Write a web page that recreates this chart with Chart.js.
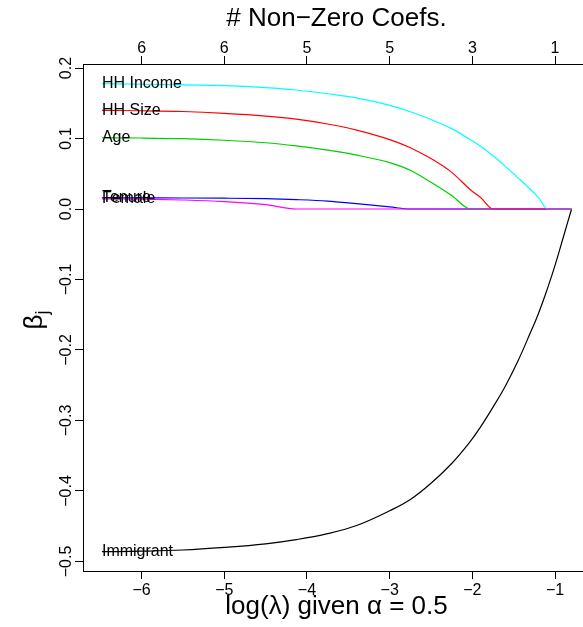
<!DOCTYPE html>
<html>
<head>
<meta charset="utf-8">
<script src="https://cdn.jsdelivr.net/npm/chart.js@4.4.1/dist/chart.umd.min.js"></script>
<style>
  html, body { margin: 0; padding: 0; background: #fff; overflow: hidden; }
  #wrap { width: 583px; height: 627px; overflow: hidden; }
</style>
</head>
<body>
<div id="wrap"><canvas id="coefChart" width="600" height="627"></canvas></div>
<script>
// coefficient paths along log(lambda), elastic net with alpha = 0.5
const logLambda = [-6.48, -6.0, -5.5, -5.0, -4.5, -4.13, -3.75, -3.4, -3.0, -2.75, -2.5, -2.25,
                   -2.02, -1.9, -1.75, -1.6, -1.45, -1.3, -1.2, -1.09, -1.0, -0.9, -0.8];

const hhIncome  = [0.1777, 0.1770, 0.1760, 0.1750, 0.1722, 0.1688, 0.1635, 0.1577, 0.1470, 0.1380, 0.1270, 0.1140,
                   0.0980, 0.0890, 0.0755, 0.0605, 0.0445, 0.0281, 0.0162, 0, 0, 0, 0];
const hhSize    = [0.1399, 0.1394, 0.1383, 0.1357, 0.1318, 0.1275, 0.1206, 0.1120, 0.0985, 0.0870, 0.0715, 0.0520,
                   0.0270, 0.0163, 0, 0, 0, 0, 0, 0, 0, 0, 0];
const age       = [0.1011, 0.1007, 0.0997, 0.0975, 0.0940, 0.0895, 0.0835, 0.0765, 0.0658, 0.0550, 0.0378, 0.0190,
                   0, 0, 0, 0, 0, 0, 0, 0, 0, 0, 0];
const tenure    = [0.0158, 0.0157, 0.0156, 0.0153, 0.0146, 0.0133, 0.0112, 0.0075, 0.0030, 0, 0, 0,
                   0, 0, 0, 0, 0, 0, 0, 0, 0, 0, 0];
const female    = [0.0143, 0.0139, 0.0128, 0.0106, 0.0061, 0, 0, 0, 0, 0, 0, 0,
                   0, 0, 0, 0, 0, 0, 0, 0, 0, 0, 0];
const immigrant = [-0.4861, -0.4854, -0.4837, -0.4800, -0.4749, -0.4690, -0.4605, -0.4490, -0.4280, -0.4120, -0.3890, -0.3610,
                   -0.3290, -0.3090, -0.2810, -0.2510, -0.2160, -0.1760, -0.1481, -0.1123, -0.0800, -0.0400, 0];

const seriesNames  = ['HH Income', 'HH Size', 'Age', 'Tenure', 'Female', 'Immigrant'];
const seriesValues = [hhIncome, hhSize, age, tenure, female, immigrant];
const seriesColors = ['#00FFFF', '#FF0000', '#00CD00', '#0000FF', '#FF00FF', '#000000'];

const xTicks = [-6, -5, -4, -3, -2, -1];
const nonZeroCoefs = [6, 6, 5, 5, 3, 1];
const yTicks = [0.2, 0.1, 0.0, -0.1, -0.2, -0.3, -0.4, -0.5];

const FONT = '"Liberation Sans", Arial, Helvetica, sans-serif';

function minus(s) { return String(s).replace('-', '\u2212'); }

const datasets = seriesNames.map(function(name, k) {
    // paths that hit zero keep the monotone spline so they do not dip below the axis
    const smooth = name === 'Immigrant'
        ? { cubicInterpolationMode: 'default', tension: 0.4 }
        : { cubicInterpolationMode: 'monotone' };
    return Object.assign({
        label: name,
        data: logLambda.map((x, i) => ({ x: x, y: seriesValues[k][i] })),
        borderColor: seriesColors[k],
        borderWidth: 1.2,
        pointRadius: 0,
        order: name === 'Female' ? 0 : 1
    }, smooth);
});

function axisLine() {
    return {
        grid: { drawOnChartArea: false, drawTicks: true, tickLength: 8, color: '#000', tickWidth: 1 },
        border: { display: true, color: '#000', width: 1 }
    };
}

// text drawn by hand: rotated y labels, titles, series names at the start of each path
const textPlugin = {
    id: 'rText',
    afterDatasetsDraw(chart) {
        const ctx = chart.ctx;
        const y = chart.scales.y;
        const area = chart.chartArea;
        ctx.save();
        ctx.fillStyle = '#000';

        // series names
        ctx.font = '16px ' + FONT;
        ctx.textAlign = 'left';
        ctx.textBaseline = 'middle';
        chart.data.datasets.forEach(function(ds, k) {
            const pt = chart.getDatasetMeta(k).data[0];
            ctx.fillText(ds.label, pt.x, pt.y);
        });

        // y tick labels, parallel to the axis
        ctx.font = '16px ' + FONT;
        ctx.textAlign = 'center';
        ctx.textBaseline = 'middle';
        yTicks.forEach(function(v) {
            const py = y.getPixelForValue(v);
            ctx.save();
            ctx.translate(67, py);
            ctx.rotate(-Math.PI / 2);
            ctx.fillText(minus(v.toFixed(1)), 0, 0);
            ctx.restore();
        });

        // non-zero counts above the top axis
        const x2 = chart.scales.x2;
        ctx.textBaseline = 'alphabetic';
        xTicks.forEach(function(v, i) {
            ctx.fillText(String(nonZeroCoefs[i]), x2.getPixelForValue(v), 53);
        });

        const cx = (area.left + area.right) / 2;

        // top title
        ctx.textBaseline = 'middle';
        ctx.font = '26px ' + FONT;
        ctx.fillText('# Non\u2212Zero Coefs.', cx, 19);

        // bottom title
        ctx.fillText('log(\u03BB) given \u03B1 = 0.5', cx, 607);

        // y title: beta with subscript j
        ctx.save();
        ctx.translate(35, (area.top + area.bottom) / 2);
        ctx.rotate(-Math.PI / 2);
        ctx.font = '26px ' + FONT;
        ctx.textAlign = 'right';
        ctx.fillText('\u03B2', 3, 0);
        ctx.font = '18px ' + FONT;
        ctx.textAlign = 'left';
        ctx.fillText('j', 3, 8);
        ctx.restore();

        ctx.restore();
    }
};

const ctx = document.getElementById('coefChart').getContext('2d');
const coefChart = new Chart(ctx, {
    type: 'line',
    data: { datasets: datasets },
    options: {
        responsive: false,
        animation: false,
        events: [],
        layout: { padding: { left: 0, right: 10, top: 0, bottom: 0 } },
        plugins: { legend: { display: false }, tooltip: { enabled: false }, title: { display: false } },
        scales: {
            x: Object.assign({
                type: 'linear',
                position: 'bottom',
                min: -6.709,
                max: -0.577,
                afterBuildTicks: s => { s.ticks = xTicks.map(v => ({ value: v })); },
                afterFit: s => { s.height = 56; },
                ticks: { color: '#000', font: { size: 16, family: FONT }, padding: 2, maxRotation: 0,
                         callback: v => minus(v) }
            }, axisLine()),
            x2: Object.assign({
                type: 'linear',
                position: 'top',
                min: -6.709,
                max: -0.577,
                afterBuildTicks: s => { s.ticks = xTicks.map(v => ({ value: v })); },
                afterFit: s => { s.height = 64; },
                ticks: { display: false }
            }, axisLine()),
            y: Object.assign({
                type: 'linear',
                position: 'left',
                min: -0.5135,
                max: 0.2057,
                afterBuildTicks: s => { s.ticks = yTicks.map(v => ({ value: v })); },
                afterFit: s => { s.width = 83; },
                ticks: { display: false }
            }, axisLine())
        }
    },
    plugins: [textPlugin]
});
</script>
</body>
</html>
